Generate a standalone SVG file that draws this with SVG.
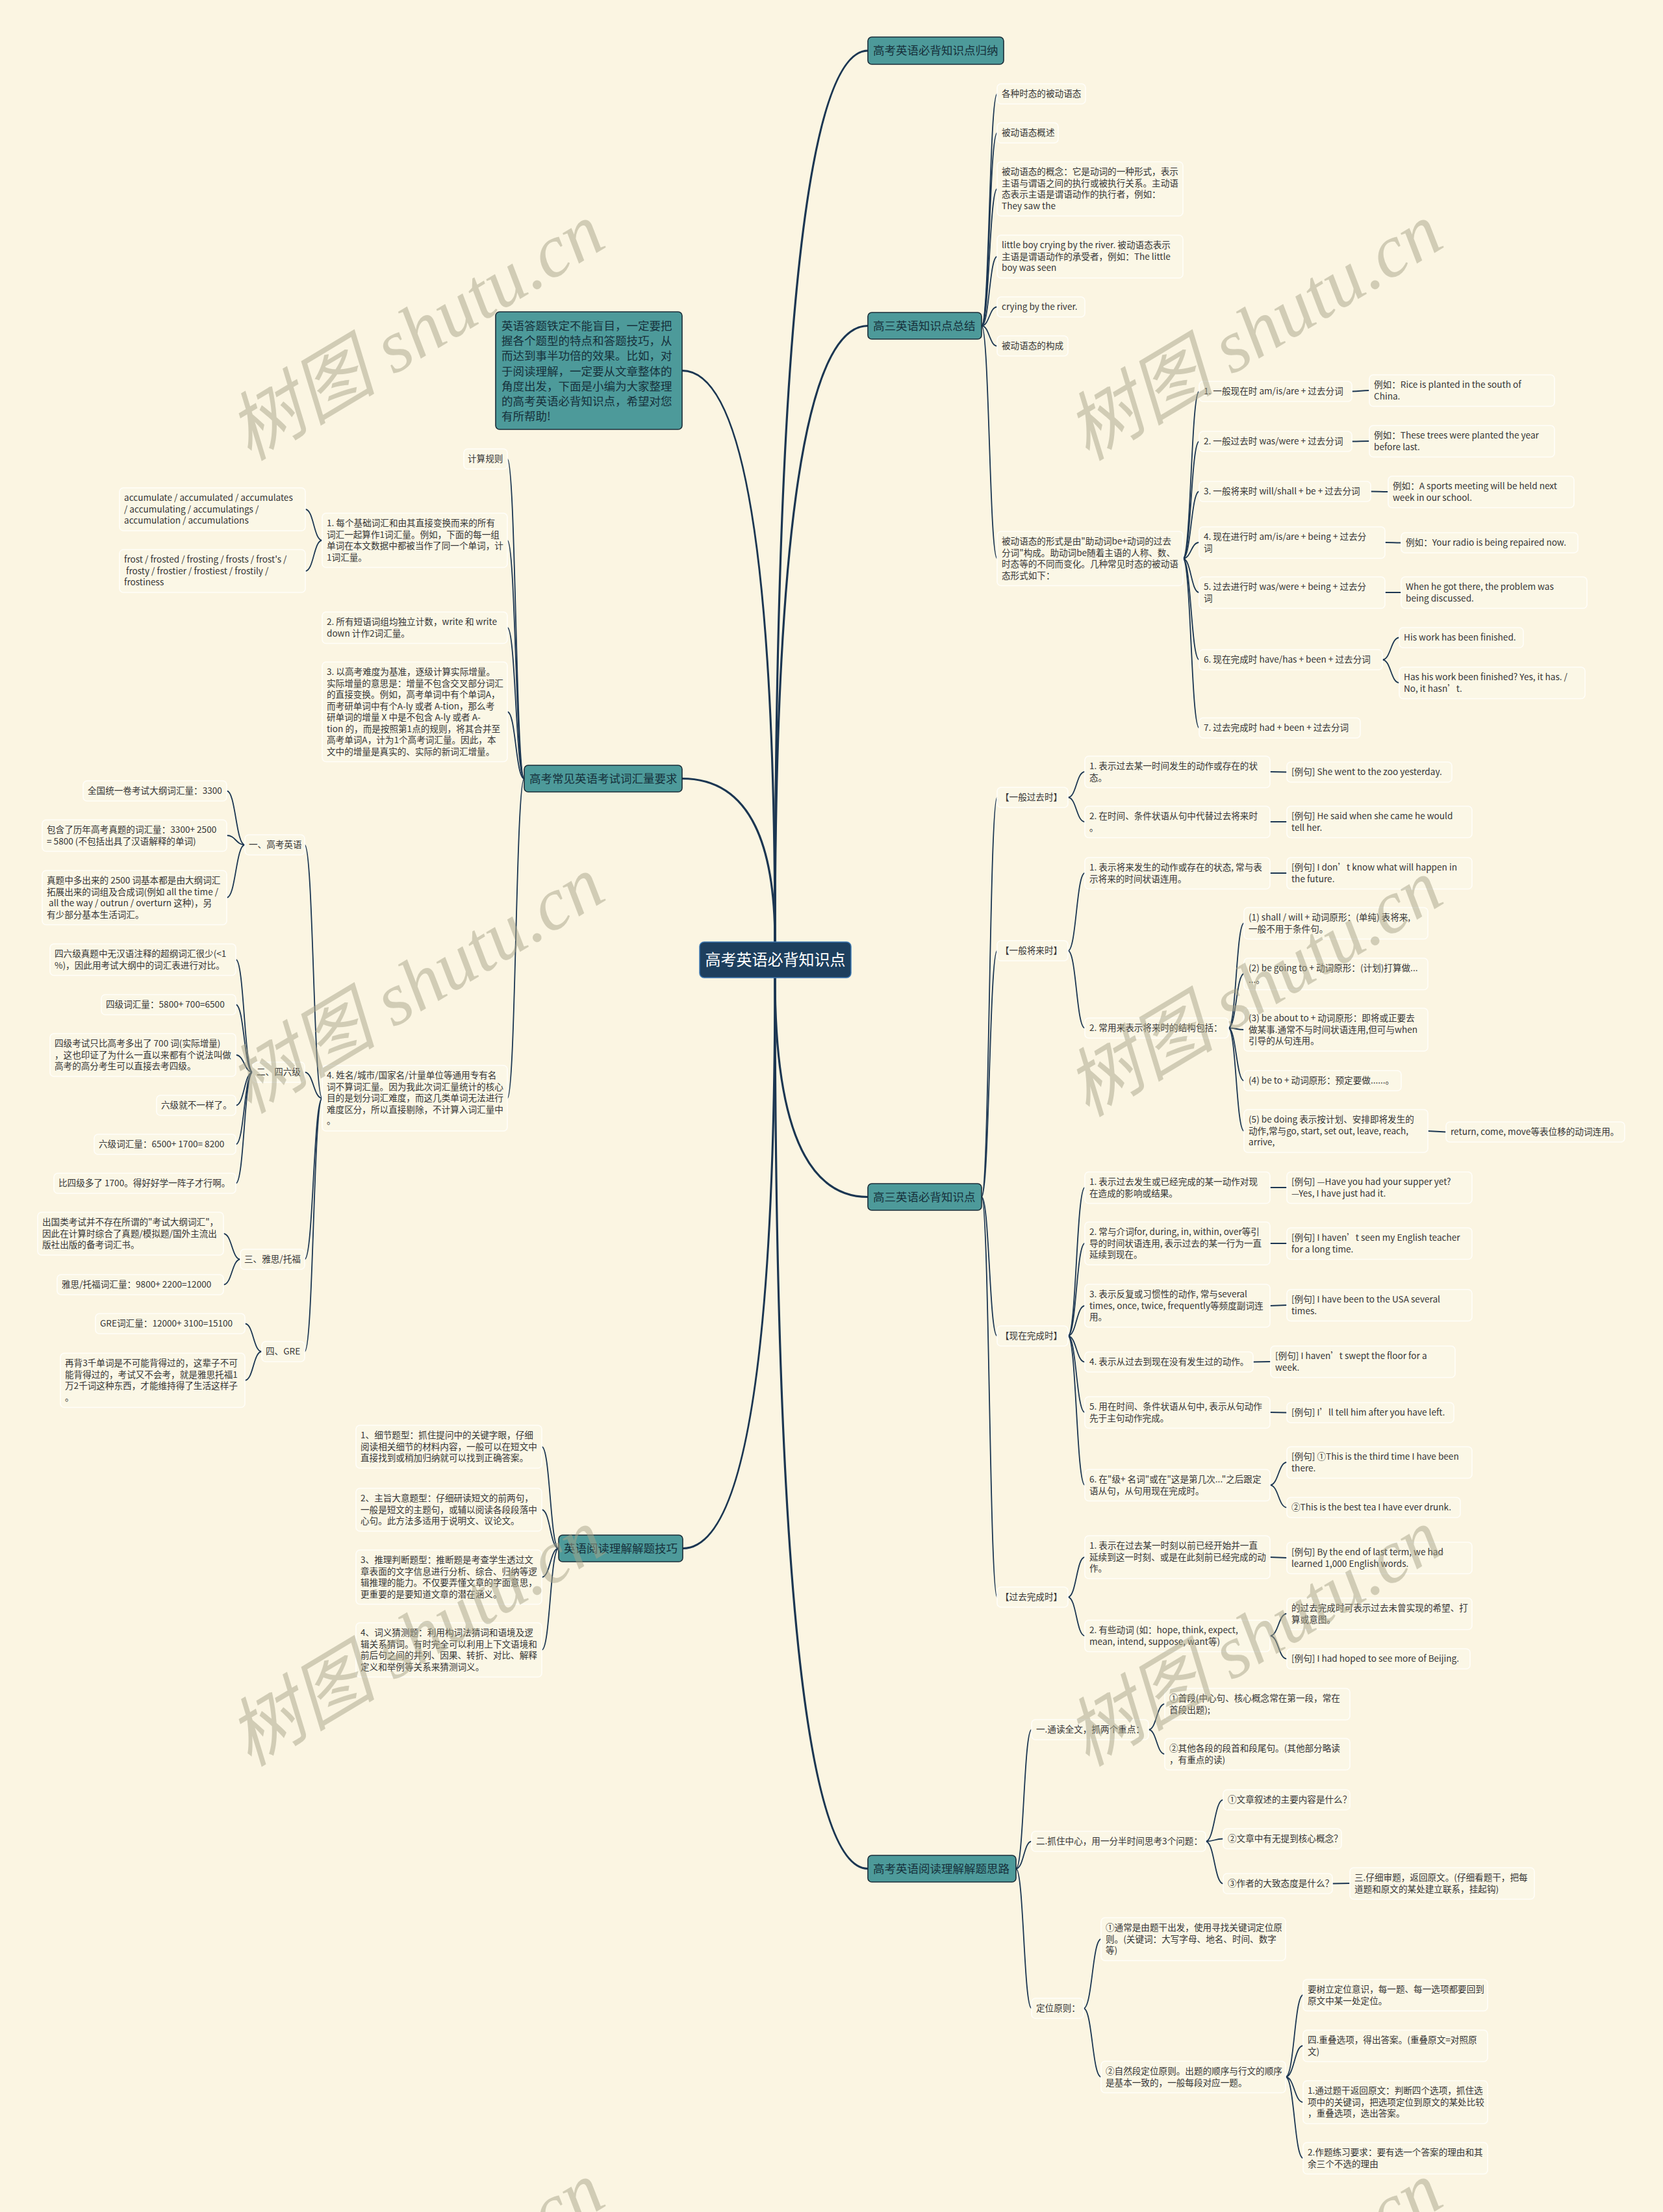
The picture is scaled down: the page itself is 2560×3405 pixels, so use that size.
<svg xmlns="http://www.w3.org/2000/svg" width="2560" height="3405" viewBox="0 0 2560 3405">
<style>
.t{font-family:"Noto Sans CJK SC","Noto Sans",sans-serif;font-size:13.6px;fill:#353535}
.n rect{fill:#fbf7e6;stroke:#fffef9;stroke-width:1.6}
.b rect{fill:#4d9a9a;stroke:#1a2c38;stroke-width:1.6}
.bt{font-family:"Noto Sans CJK SC","Noto Sans",sans-serif;font-size:17.5px;fill:#16303b}
.c path{fill:none;stroke:#1b3652;stroke-width:1.8;stroke-linecap:round}
.c path.m{stroke-width:3.2}
.wm{font-family:"Liberation Serif","Noto Sans CJK SC",serif;font-style:italic;font-size:115px;fill:#a8a58a;opacity:0.5}
</style>
<rect x="0" y="0" width="2560" height="3405" fill="#fbf5e2"/>
<g id="connectors" class="c">
<path class="m" d="M1193 1450Q1193 78 1336 78"/>
<path class="m" d="M1193 1450Q1193 501.5 1336 501.5"/>
<path class="m" d="M1193 1450Q1193 570.5 1050 570.5"/>
<path class="m" d="M1193 1450Q1193 1198.5 1050 1198.5"/>
<path class="m" d="M1193 1505Q1193 1842.5 1336 1842.5"/>
<path class="m" d="M1193 1505Q1193 2876.5 1336 2876.5"/>
<path class="m" d="M1193 1505Q1193 2383.5 1051 2383.5"/>
<path d="M1511 501.5C1523 501.5 1523 144.5 1535 144.5"/>
<path d="M1511 501.5C1523 501.5 1523 204.5 1535 204.5"/>
<path d="M1511 501.5C1523 501.5 1523 290.75 1535 290.75"/>
<path d="M1511 501.5C1523 501.5 1523 395 1535 395"/>
<path d="M1511 501.5C1523 501.5 1523 472.5 1535 472.5"/>
<path d="M1511 501.5C1523 501.5 1523 532.5 1535 532.5"/>
<path d="M1511 501.5C1523 501.5 1523 859.75 1535 859.75"/>
<path d="M1821 859.75C1833.5 859.75 1833.5 602.5 1846 602.5"/>
<path d="M1821 859.75C1833.5 859.75 1833.5 679.5 1846 679.5"/>
<path d="M1821 859.75C1833.5 859.75 1833.5 756.5 1846 756.5"/>
<path d="M1821 859.75C1833.5 859.75 1833.5 835 1846 835"/>
<path d="M1821 859.75C1833.5 859.75 1833.5 912 1846 912"/>
<path d="M1821 859.75C1833.5 859.75 1833.5 1015.5 1846 1015.5"/>
<path d="M1821 859.75C1833.5 859.75 1833.5 1120.5 1846 1120.5"/>
<path d="M2081 602.5C2094.5 602.5 2094.5 601 2108 601"/>
<path d="M2081 679.5C2094.5 679.5 2094.5 679 2108 679"/>
<path d="M2110 756.5C2123.5 756.5 2123.5 757 2137 757"/>
<path d="M2132 835C2144.5 835 2144.5 835.5 2157 835.5"/>
<path d="M2132 912L2157 912"/>
<path d="M2128 1015.5C2141 1015.5 2141 981.5 2154 981.5"/>
<path d="M2128 1015.5C2141 1015.5 2141 1051 2154 1051"/>
<path d="M1511 1842.5C1523 1842.5 1523 1227.5 1535 1227.5"/>
<path d="M1511 1842.5C1523 1842.5 1523 1463.5 1535 1463.5"/>
<path d="M1511 1842.5C1523 1842.5 1523 2056.5 1535 2056.5"/>
<path d="M1511 1842.5C1523 1842.5 1523 2458.5 1535 2458.5"/>
<path d="M1644 1227.5C1657 1227.5 1657 1188 1670 1188"/>
<path d="M1644 1227.5C1657 1227.5 1657 1265 1670 1265"/>
<path d="M1955 1188L1981 1188.5"/>
<path d="M1955 1265L1981 1265"/>
<path d="M1644 1463.5C1657 1463.5 1657 1344 1670 1344"/>
<path d="M1644 1463.5C1657 1463.5 1657 1582.5 1670 1582.5"/>
<path d="M1955 1344L1981 1344"/>
<path d="M1891 1582.5C1903 1582.5 1903 1421 1915 1421"/>
<path d="M1891 1582.5C1903 1582.5 1903 1499 1915 1499"/>
<path d="M1891 1582.5C1903 1582.5 1903 1585 1915 1585"/>
<path d="M1891 1582.5C1903 1582.5 1903 1663.5 1915 1663.5"/>
<path d="M1891 1582.5C1903 1582.5 1903 1741 1915 1741"/>
<path d="M2198 1741L2226 1742.5"/>
<path d="M1644 2056.5C1657 2056.5 1657 1828 1670 1828"/>
<path d="M1644 2056.5C1657 2056.5 1657 1914 1670 1914"/>
<path d="M1644 2056.5C1657 2056.5 1657 2010 1670 2010"/>
<path d="M1644 2056.5C1657 2056.5 1657 2096.5 1670 2096.5"/>
<path d="M1644 2056.5C1657 2056.5 1657 2174 1670 2174"/>
<path d="M1644 2056.5C1657 2056.5 1657 2286 1670 2286"/>
<path d="M1955 1828L1981 1828"/>
<path d="M1955 1914L1981 1914"/>
<path d="M1955 2010L1981 2009"/>
<path d="M1929 2096.5L1956 2096"/>
<path d="M1955 2174L1981 2174.5"/>
<path d="M1955 2286C1968 2286 1968 2251 1981 2251"/>
<path d="M1955 2286C1968 2286 1968 2320.5 1981 2320.5"/>
<path d="M1644 2458.5C1657 2458.5 1657 2397 1670 2397"/>
<path d="M1644 2458.5C1657 2458.5 1657 2518 1670 2518"/>
<path d="M1955 2397L1981 2398"/>
<path d="M1955 2518C1968 2518 1968 2484 1981 2484"/>
<path d="M1955 2518C1968 2518 1968 2553.5 1981 2553.5"/>
<path d="M1564 2876.5C1576 2876.5 1576 2662.5 1588 2662.5"/>
<path d="M1564 2876.5C1576 2876.5 1576 2834.5 1588 2834.5"/>
<path d="M1564 2876.5C1576 2876.5 1576 3091.5 1588 3091.5"/>
<path d="M1768 2662.5C1780.5 2662.5 1780.5 2623 1793 2623"/>
<path d="M1768 2662.5C1780.5 2662.5 1780.5 2700 1793 2700"/>
<path d="M1856 2834.5C1869.5 2834.5 1869.5 2770.5 1883 2770.5"/>
<path d="M1856 2834.5C1869.5 2834.5 1869.5 2830.5 1883 2830.5"/>
<path d="M1856 2834.5C1869.5 2834.5 1869.5 2899.5 1883 2899.5"/>
<path d="M2051 2899.5L2078 2899"/>
<path d="M1668 3091.5C1681.5 3091.5 1681.5 2985 1695 2985"/>
<path d="M1668 3091.5C1681.5 3091.5 1681.5 3197 1695 3197"/>
<path d="M1979 3197C1992.5 3197 1992.5 3071 2006 3071"/>
<path d="M1979 3197C1992.5 3197 1992.5 3149 2006 3149"/>
<path d="M1979 3197C1992.5 3197 1992.5 3236 2006 3236"/>
<path d="M1979 3197C1992.5 3197 1992.5 3322 2006 3322"/>
<path d="M807 1198.5C794 1198.5 794 706.5 781 706.5"/>
<path d="M807 1198.5C794 1198.5 794 831.75 781 831.75"/>
<path d="M807 1198.5C794 1198.5 794 966 781 966"/>
<path d="M807 1198.5C794 1198.5 794 1095.75 781 1095.75"/>
<path d="M807 1198.5C794 1198.5 794 1690.5 781 1690.5"/>
<path d="M496 831.75C483 831.75 483 784 470 784"/>
<path d="M496 831.75C483 831.75 483 879 470 879"/>
<path d="M496 1690.5C482.5 1690.5 482.5 1300.5 469 1300.5"/>
<path d="M496 1690.5C482.5 1690.5 482.5 1650.5 469 1650.5"/>
<path d="M496 1690.5C482.5 1690.5 482.5 1938.5 469 1938.5"/>
<path d="M496 1690.5C482.5 1690.5 482.5 2080.5 469 2080.5"/>
<path d="M377 1300.5C363 1300.5 363 1217.5 349 1217.5"/>
<path d="M377 1300.5C363 1300.5 363 1286 349 1286"/>
<path d="M377 1300.5C363 1300.5 363 1381.75 349 1381.75"/>
<path d="M389 1650.5C376 1650.5 376 1477 363 1477"/>
<path d="M389 1650.5C376 1650.5 376 1546.5 363 1546.5"/>
<path d="M389 1650.5C376 1650.5 376 1624 363 1624"/>
<path d="M389 1650.5C376 1650.5 376 1701.5 363 1701.5"/>
<path d="M389 1650.5C376 1650.5 376 1761.5 363 1761.5"/>
<path d="M389 1650.5C376 1650.5 376 1821.5 363 1821.5"/>
<path d="M370 1938.5C357 1938.5 357 1899 344 1899"/>
<path d="M370 1938.5C357 1938.5 357 1977.5 344 1977.5"/>
<path d="M403 2080.5C390 2080.5 390 2037.5 377 2037.5"/>
<path d="M403 2080.5C390 2080.5 390 2124.75 377 2124.75"/>
<path d="M860 2383.5C847 2383.5 847 2227 834 2227"/>
<path d="M860 2383.5C847 2383.5 847 2324 834 2324"/>
<path d="M860 2383.5C847 2383.5 847 2427.75 834 2427.75"/>
<path d="M860 2383.5C847 2383.5 847 2539.75 834 2539.75"/>
</g>
<g id="center"><rect x="1077" y="1450" width="233" height="55" rx="7" fill="#1d3f5e" stroke="#3b77b2" stroke-width="1.5"/><text x="1193.5" y="1486" text-anchor="middle" font-family="Noto Sans CJK SC, sans-serif" font-size="24" fill="#ffffff">高考英语必背知识点</text></g>
<g id="b1" class="b"><rect x="1336" y="57" width="209" height="42" rx="6"/><text class="bt" x="1344" y="84">高考英语必背知识点归纳</text></g>
<g id="b2" class="b"><rect x="1336" y="481" width="175" height="41" rx="6"/><text class="bt" x="1344" y="507.6">高三英语知识点总结</text></g>
<g id="b3" class="b"><rect x="1336" y="1822" width="175" height="41" rx="6"/><text class="bt" x="1344" y="1848.6">高三英语必背知识点</text></g>
<g id="b4" class="b"><rect x="1336" y="2856" width="228" height="41" rx="6"/><text class="bt" x="1344" y="2882.6">高考英语阅读理解解题思路</text></g>
<g id="intro" class="b"><rect x="763" y="480" width="287" height="181" rx="6"/><text class="bt" x="772" y="508">英语答题铁定不能盲目，一定要把<tspan x="772" dy="23.2">握各个题型的特点和答题技巧，从</tspan><tspan x="772" dy="23.2">而达到事半功倍的效果。比如，对</tspan><tspan x="772" dy="23.2">于阅读理解，一定要从文章整体的</tspan><tspan x="772" dy="23.2">角度出发，下面是小编为大家整理</tspan><tspan x="772" dy="23.2">的高考英语必背知识点，希望对您</tspan><tspan x="772" dy="23.2">有所帮助!</tspan></text></g>
<g id="b5" class="b"><rect x="807" y="1178" width="243" height="41" rx="6"/><text class="bt" x="815" y="1204.6">高考常见英语考试词汇量要求</text></g>
<g id="b6" class="b"><rect x="860" y="2363" width="191" height="41" rx="6"/><text class="bt" x="868" y="2389.6">英语阅读理解解题技巧</text></g>
<g id="na" class="n"><rect x="1535" y="129" width="136" height="31" rx="6"/><text class="t" x="1542" y="149.2">各种时态的被动语态</text></g>
<g id="nb" class="n"><rect x="1535" y="189" width="94" height="31" rx="6"/><text class="t" x="1542" y="209.2">被动语态概述</text></g>
<g id="nc" class="n"><rect x="1535" y="249" width="286" height="83.5" rx="6"/><text class="t" x="1542" y="269.2">被动语态的概念：它是动词的一种形式，表示<tspan x="1542" dy="17.5">主语与谓语之间的执行或被执行关系。主动语</tspan><tspan x="1542" dy="17.5">态表示主语是谓语动作的执行者，例如：</tspan><tspan x="1542" dy="17.5">They saw the</tspan></text></g>
<g id="nd" class="n"><rect x="1535" y="362" width="286" height="66" rx="6"/><text class="t" x="1542" y="382.2">little boy crying by the river. 被动语态表示<tspan x="1542" dy="17.5">主语是谓语动作的承受者，例如：The little</tspan><tspan x="1542" dy="17.5">boy was seen</tspan></text></g>
<g id="ne" class="n"><rect x="1535" y="457" width="135" height="31" rx="6"/><text class="t" x="1542" y="477.2">crying by the river.</text></g>
<g id="nf" class="n"><rect x="1535" y="517" width="109" height="31" rx="6"/><text class="t" x="1542" y="537.2">被动语态的构成</text></g>
<g id="ng" class="n"><rect x="1535" y="818" width="286" height="83.5" rx="6"/><text class="t" x="1542" y="838.2">被动语态的形式是由"助动词be+动词的过去<tspan x="1542" dy="17.5">分词"构成。助动词be随着主语的人称、数、</tspan><tspan x="1542" dy="17.5">时态等的不同而变化。几种常见时态的被动语</tspan><tspan x="1542" dy="17.5">态形式如下：</tspan></text></g>
<g id="g1" class="n"><rect x="1846" y="587" width="235" height="31" rx="6"/><text class="t" x="1853" y="607.2">1. 一般现在时 am/is/are + 过去分词</text></g>
<g id="g1e" class="n"><rect x="2108" y="577" width="285" height="48.5" rx="6"/><text class="t" x="2115" y="597.2">例如：Rice is planted in the south of<tspan x="2115" dy="17.5">China.</tspan></text></g>
<g id="g2" class="n"><rect x="1846" y="664" width="235" height="31" rx="6"/><text class="t" x="1853" y="684.2">2. 一般过去时 was/were + 过去分词</text></g>
<g id="g2e" class="n"><rect x="2108" y="655" width="285" height="48.5" rx="6"/><text class="t" x="2115" y="675.2">例如：These trees were planted the year<tspan x="2115" dy="17.5">before last.</tspan></text></g>
<g id="g3" class="n"><rect x="1846" y="741" width="264" height="31" rx="6"/><text class="t" x="1853" y="761.2">3. 一般将来时 will/shall + be + 过去分词</text></g>
<g id="g3e" class="n"><rect x="2137" y="733" width="286" height="48.5" rx="6"/><text class="t" x="2144" y="753.2">例如：A sports meeting will be held next<tspan x="2144" dy="17.5">week in our school.</tspan></text></g>
<g id="g4" class="n"><rect x="1846" y="811" width="286" height="48.5" rx="6"/><text class="t" x="1853" y="831.2">4. 现在进行时 am/is/are + being + 过去分<tspan x="1853" dy="17.5">词</tspan></text></g>
<g id="g4e" class="n"><rect x="2157" y="820" width="272" height="31" rx="6"/><text class="t" x="2164" y="840.2">例如：Your radio is being repaired now.</text></g>
<g id="g5" class="n"><rect x="1846" y="888" width="286" height="48.5" rx="6"/><text class="t" x="1853" y="908.2">5. 过去进行时 was/were + being + 过去分<tspan x="1853" dy="17.5">词</tspan></text></g>
<g id="g5e" class="n"><rect x="2157" y="888" width="286" height="48.5" rx="6"/><text class="t" x="2164" y="908.2">When he got there, the problem was<tspan x="2164" dy="17.5">being discussed.</tspan></text></g>
<g id="g6" class="n"><rect x="1846" y="1000" width="282" height="31" rx="6"/><text class="t" x="1853" y="1020.2">6. 现在完成时 have/has + been + 过去分词</text></g>
<g id="g6e1" class="n"><rect x="2154" y="966" width="191" height="31" rx="6"/><text class="t" x="2161" y="986.2">His work has been finished.</text></g>
<g id="g6e2" class="n"><rect x="2154" y="1027" width="286" height="48.5" rx="6"/><text class="t" x="2161" y="1047.2">Has his work been finished? Yes, it has. /<tspan x="2161" dy="17.5">No, it hasn’t.</tspan></text></g>
<g id="g7" class="n"><rect x="1846" y="1105" width="248" height="31" rx="6"/><text class="t" x="1853" y="1125.2">7. 过去完成时 had + been + 过去分词</text></g>
<g id="h1" class="n"><rect x="1535" y="1212" width="109" height="31" rx="6"/><text class="t" x="1540" y="1232.2">【一般过去时】</text></g>
<g id="h1a" class="n"><rect x="1670" y="1164" width="285" height="48.5" rx="6"/><text class="t" x="1677" y="1184.2">1. 表示过去某一时间发生的动作或存在的状<tspan x="1677" dy="17.5">态。</tspan></text></g>
<g id="h1ae" class="n"><rect x="1981" y="1173" width="254" height="31" rx="6"/><text class="t" x="1988" y="1193.2">[例句] She went to the zoo yesterday.</text></g>
<g id="h1b" class="n"><rect x="1670" y="1241" width="285" height="48.5" rx="6"/><text class="t" x="1677" y="1261.2">2. 在时间、条件状语从句中代替过去将来时<tspan x="1677" dy="17.5">。</tspan></text></g>
<g id="h1be" class="n"><rect x="1981" y="1241" width="285" height="48.5" rx="6"/><text class="t" x="1988" y="1261.2">[例句] He said when she came he would<tspan x="1988" dy="17.5">tell her.</tspan></text></g>
<g id="h2" class="n"><rect x="1535" y="1448" width="109" height="31" rx="6"/><text class="t" x="1540" y="1468.2">【一般将来时】</text></g>
<g id="h2a" class="n"><rect x="1670" y="1320" width="285" height="48.5" rx="6"/><text class="t" x="1677" y="1340.2">1. 表示将来发生的动作或存在的状态, 常与表<tspan x="1677" dy="17.5">示将来的时间状语连用。</tspan></text></g>
<g id="h2ae" class="n"><rect x="1981" y="1320" width="285" height="48.5" rx="6"/><text class="t" x="1988" y="1340.2">[例句] I don’t know what will happen in<tspan x="1988" dy="17.5">the future.</tspan></text></g>
<g id="h2b" class="n"><rect x="1670" y="1567" width="221" height="31" rx="6"/><text class="t" x="1677" y="1587.2">2. 常用来表示将来时的结构包括：</text></g>
<g id="s1" class="n"><rect x="1915" y="1397" width="283" height="48.5" rx="6"/><text class="t" x="1922" y="1417.2">(1) shall / will + 动词原形：(单纯) 表将来,<tspan x="1922" dy="17.5">一般不用于条件句。</tspan></text></g>
<g id="s2" class="n"><rect x="1915" y="1475" width="283" height="48.5" rx="6"/><text class="t" x="1922" y="1495.2">(2) be going to + 动词原形：(计划)打算做...<tspan x="1922" dy="17.5">...。</tspan></text></g>
<g id="s3" class="n"><rect x="1915" y="1552" width="283" height="66" rx="6"/><text class="t" x="1922" y="1572.2">(3) be about to + 动词原形：即将或正要去<tspan x="1922" dy="17.5">做某事.通常不与时间状语连用,但可与when</tspan><tspan x="1922" dy="17.5">引导的从句连用。</tspan></text></g>
<g id="s4" class="n"><rect x="1915" y="1648" width="242" height="31" rx="6"/><text class="t" x="1922" y="1668.2">(4) be to + 动词原形：预定要做......。</text></g>
<g id="s5" class="n"><rect x="1915" y="1708" width="283" height="66" rx="6"/><text class="t" x="1922" y="1728.2">(5) be doing 表示按计划、安排即将发生的<tspan x="1922" dy="17.5">动作,常与go, start, set out, leave, reach,</tspan><tspan x="1922" dy="17.5">arrive,</tspan></text></g>
<g id="s5e" class="n"><rect x="2226" y="1727" width="275" height="31" rx="6"/><text class="t" x="2233" y="1747.2">return, come, move等表位移的动词连用。</text></g>
<g id="h3" class="n"><rect x="1535" y="2041" width="109" height="31" rx="6"/><text class="t" x="1540" y="2061.2">【现在完成时】</text></g>
<g id="h3a" class="n"><rect x="1670" y="1804" width="285" height="48.5" rx="6"/><text class="t" x="1677" y="1824.2">1. 表示过去发生或已经完成的某一动作对现<tspan x="1677" dy="17.5">在造成的影响或结果。</tspan></text></g>
<g id="h3ae" class="n"><rect x="1981" y="1804" width="285" height="48.5" rx="6"/><text class="t" x="1988" y="1824.2">[例句] —Have you had your supper yet?<tspan x="1988" dy="17.5">—Yes, I have just had it.</tspan></text></g>
<g id="h3b" class="n"><rect x="1670" y="1881" width="285" height="66" rx="6"/><text class="t" x="1677" y="1901.2">2. 常与介词for, during, in, within, over等引<tspan x="1677" dy="17.5">导的时间状语连用, 表示过去的某一行为一直</tspan><tspan x="1677" dy="17.5">延续到现在。</tspan></text></g>
<g id="h3be" class="n"><rect x="1981" y="1890" width="285" height="48.5" rx="6"/><text class="t" x="1988" y="1910.2">[例句] I haven’t seen my English teacher<tspan x="1988" dy="17.5">for a long time.</tspan></text></g>
<g id="h3c" class="n"><rect x="1670" y="1977" width="285" height="66" rx="6"/><text class="t" x="1677" y="1997.2">3. 表示反复或习惯性的动作, 常与several<tspan x="1677" dy="17.5">times, once, twice, frequently等频度副词连</tspan><tspan x="1677" dy="17.5">用。</tspan></text></g>
<g id="h3ce" class="n"><rect x="1981" y="1985" width="285" height="48.5" rx="6"/><text class="t" x="1988" y="2005.2">[例句] I have been to the USA several<tspan x="1988" dy="17.5">times.</tspan></text></g>
<g id="h3d" class="n"><rect x="1670" y="2081" width="259" height="31" rx="6"/><text class="t" x="1677" y="2101.2">4. 表示从过去到现在没有发生过的动作。</text></g>
<g id="h3de" class="n"><rect x="1956" y="2072" width="284" height="48.5" rx="6"/><text class="t" x="1963" y="2092.2">[例句] I haven’t swept the floor for a<tspan x="1963" dy="17.5">week.</tspan></text></g>
<g id="h3e" class="n"><rect x="1670" y="2150" width="285" height="48.5" rx="6"/><text class="t" x="1677" y="2170.2">5. 用在时间、条件状语从句中, 表示从句动作<tspan x="1677" dy="17.5">先于主句动作完成。</tspan></text></g>
<g id="h3ee" class="n"><rect x="1981" y="2159" width="257" height="31" rx="6"/><text class="t" x="1988" y="2179.2">[例句] I’ll tell him after you have left.</text></g>
<g id="h3f" class="n"><rect x="1670" y="2262" width="285" height="48.5" rx="6"/><text class="t" x="1677" y="2282.2">6. 在"级+ 名词"或在"这是第几次..."之后跟定<tspan x="1677" dy="17.5">语从句，从句用现在完成时。</tspan></text></g>
<g id="h3fe1" class="n"><rect x="1981" y="2227" width="285" height="48.5" rx="6"/><text class="t" x="1988" y="2247.2">[例句] ①This is the third time I have been<tspan x="1988" dy="17.5">there.</tspan></text></g>
<g id="h3fe2" class="n"><rect x="1981" y="2305" width="267" height="31" rx="6"/><text class="t" x="1988" y="2325.2">②This is the best tea I have ever drunk.</text></g>
<g id="h4" class="n"><rect x="1535" y="2443" width="109" height="31" rx="6"/><text class="t" x="1540" y="2463.2">【过去完成时】</text></g>
<g id="h4a" class="n"><rect x="1670" y="2364" width="285" height="66" rx="6"/><text class="t" x="1677" y="2384.2">1. 表示在过去某一时刻以前已经开始并一直<tspan x="1677" dy="17.5">延续到这一时刻、或是在此刻前已经完成的动</tspan><tspan x="1677" dy="17.5">作。</tspan></text></g>
<g id="h4ae" class="n"><rect x="1981" y="2374" width="285" height="48.5" rx="6"/><text class="t" x="1988" y="2394.2">[例句] By the end of last term, we had<tspan x="1988" dy="17.5">learned 1,000 English words.</tspan></text></g>
<g id="h4b" class="n"><rect x="1670" y="2494" width="285" height="48.5" rx="6"/><text class="t" x="1677" y="2514.2">2. 有些动词 (如：hope, think, expect,<tspan x="1677" dy="17.5">mean, intend, suppose, want等)</tspan></text></g>
<g id="h4be1" class="n"><rect x="1981" y="2460" width="285" height="48.5" rx="6"/><text class="t" x="1988" y="2480.2">的过去完成时可表示过去未曾实现的希望、打<tspan x="1988" dy="17.5">算或意图。</tspan></text></g>
<g id="h4be2" class="n"><rect x="1981" y="2538" width="282" height="31" rx="6"/><text class="t" x="1988" y="2558.2">[例句] I had hoped to see more of Beijing.</text></g>
<g id="i1" class="n"><rect x="1588" y="2647" width="180" height="31" rx="6"/><text class="t" x="1595" y="2667.2">一.通读全文，抓两个重点：</text></g>
<g id="c1" class="n"><rect x="1793" y="2599" width="285" height="48.5" rx="6"/><text class="t" x="1800" y="2619.2">①首段(中心句、核心概念常在第一段，常在<tspan x="1800" dy="17.5">首段出题);</tspan></text></g>
<g id="c2" class="n"><rect x="1793" y="2676" width="285" height="48.5" rx="6"/><text class="t" x="1800" y="2696.2">②其他各段的段首和段尾句。(其他部分略读<tspan x="1800" dy="17.5">，有重点的读)</tspan></text></g>
<g id="i2" class="n"><rect x="1588" y="2819" width="268" height="31" rx="6"/><text class="t" x="1595" y="2839.2">二.抓住中心，用一分半时间思考3个问题：</text></g>
<g id="d1" class="n"><rect x="1883" y="2755" width="195" height="31" rx="6"/><text class="t" x="1890" y="2775.2">①文章叙述的主要内容是什么？</text></g>
<g id="d2" class="n"><rect x="1883" y="2815" width="182" height="31" rx="6"/><text class="t" x="1890" y="2835.2">②文章中有无提到核心概念？</text></g>
<g id="d3" class="n"><rect x="1883" y="2884" width="168" height="31" rx="6"/><text class="t" x="1890" y="2904.2">③作者的大致态度是什么？</text></g>
<g id="d3e" class="n"><rect x="2078" y="2875" width="284" height="48.5" rx="6"/><text class="t" x="2085" y="2895.2">三.仔细审题，返回原文。(仔细看题干，把每<tspan x="2085" dy="17.5">道题和原文的某处建立联系，挂起钩)</tspan></text></g>
<g id="i3" class="n"><rect x="1588" y="3076" width="80" height="31" rx="6"/><text class="t" x="1595" y="3096.2">定位原则：</text></g>
<g id="e1" class="n"><rect x="1695" y="2952" width="284" height="66" rx="6"/><text class="t" x="1702" y="2972.2">①通常是由题干出发，使用寻找关键词定位原<tspan x="1702" dy="17.5">则。(关键词：大写字母、地名、时间、数字</tspan><tspan x="1702" dy="17.5">等)</tspan></text></g>
<g id="e2" class="n"><rect x="1695" y="3173" width="284" height="48.5" rx="6"/><text class="t" x="1702" y="3193.2">②自然段定位原则。出题的顺序与行文的顺序<tspan x="1702" dy="17.5">是基本一致的，一般每段对应一题。</tspan></text></g>
<g id="f1" class="n"><rect x="2006" y="3047" width="284" height="48.5" rx="6"/><text class="t" x="2013" y="3067.2">要树立定位意识，每一题、每一选项都要回到<tspan x="2013" dy="17.5">原文中某一处定位。</tspan></text></g>
<g id="f2" class="n"><rect x="2006" y="3125" width="284" height="48.5" rx="6"/><text class="t" x="2013" y="3145.2">四.重叠选项，得出答案。(重叠原文=对照原<tspan x="2013" dy="17.5">文)</tspan></text></g>
<g id="f3" class="n"><rect x="2006" y="3203" width="284" height="66" rx="6"/><text class="t" x="2013" y="3223.2">1.通过题干返回原文：判断四个选项，抓住选<tspan x="2013" dy="17.5">项中的关键词，把选项定位到原文的某处比较</tspan><tspan x="2013" dy="17.5">，重叠选项，选出答案。</tspan></text></g>
<g id="f4" class="n"><rect x="2006" y="3298" width="284" height="48.5" rx="6"/><text class="t" x="2013" y="3318.2">2.作题练习要求：要有选一个答案的理由和其<tspan x="2013" dy="17.5">余三个不选的理由</tspan></text></g>
<g id="j0" class="n"><rect x="714" y="691" width="67" height="31" rx="6"/><text class="t" x="720" y="711.2">计算规则</text></g>
<g id="j1" class="n"><rect x="496" y="790" width="285" height="83.5" rx="6"/><text class="t" x="503" y="810.2">1. 每个基础词汇和由其直接变换而来的所有<tspan x="503" dy="17.5">词汇一起算作1词汇量。例如，下面的每一组</tspan><tspan x="503" dy="17.5">单词在本文数据中都被当作了同一个单词，计</tspan><tspan x="503" dy="17.5">1词汇量。</tspan></text></g>
<g id="acc" class="n"><rect x="184" y="751" width="286" height="66" rx="6"/><text class="t" x="191" y="771.2">accumulate / accumulated / accumulates<tspan x="191" dy="17.5">/ accumulating / accumulatings /</tspan><tspan x="191" dy="17.5">accumulation / accumulations</tspan></text></g>
<g id="frost" class="n"><rect x="184" y="846" width="286" height="66" rx="6"/><text class="t" x="191" y="866.2">frost / frosted / frosting / frosts / frost's /<tspan x="194" dy="17.5">frosty / frostier / frostiest / frostily /</tspan><tspan x="191" dy="17.5">frostiness</tspan></text></g>
<g id="j2" class="n"><rect x="496" y="942" width="285" height="48.5" rx="6"/><text class="t" x="503" y="962.2">2. 所有短语词组均独立计数，write 和 write<tspan x="503" dy="17.5">down 计作2词汇量。</tspan></text></g>
<g id="j3" class="n"><rect x="496" y="1019" width="285" height="153.5" rx="6"/><text class="t" x="503" y="1039.2">3. 以高考难度为基准，逐级计算实际增量。<tspan x="503" dy="17.5">实际增量的意思是：增量不包含交叉部分词汇</tspan><tspan x="503" dy="17.5">的直接变换。例如，高考单词中有个单词A，</tspan><tspan x="503" dy="17.5">而考研单词中有个A-ly 或者 A-tion，那么考</tspan><tspan x="503" dy="17.5">研单词的增量 X 中是不包含 A-ly 或者 A-</tspan><tspan x="503" dy="17.5">tion 的，而是按照第1点的规则，将其合并至</tspan><tspan x="503" dy="17.5">高考单词A，计为1个高考词汇量。因此，本</tspan><tspan x="503" dy="17.5">文中的增量是真实的、实际的新词汇增量。</tspan></text></g>
<g id="j4" class="n"><rect x="496" y="1640" width="285" height="101" rx="6"/><text class="t" x="503" y="1660.2">4. 姓名/城市/国家名/计量单位等通用专有名<tspan x="503" dy="17.5">词不算词汇量。因为我此次词汇量统计的核心</tspan><tspan x="503" dy="17.5">目的是划分词汇难度，而这几类单词无法进行</tspan><tspan x="503" dy="17.5">难度区分，所以直接剔除，不计算入词汇量中</tspan><tspan x="503" dy="17.5">。</tspan></text></g>
<g id="j5" class="n"><rect x="377" y="1285" width="92" height="31" rx="6"/><text class="t" x="383" y="1305.2">一、高考英语</text></g>
<g id="j5a" class="n"><rect x="128" y="1202" width="221" height="31" rx="6"/><text class="t" x="135" y="1222.2">全国统一卷考试大纲词汇量：3300</text></g>
<g id="j5b" class="n"><rect x="65" y="1262" width="284" height="48.5" rx="6"/><text class="t" x="72" y="1282.2">包含了历年高考真题的词汇量：3300+ 2500<tspan x="72" dy="17.5">= 5800 (不包括出具了汉语解释的单词)</tspan></text></g>
<g id="j5c" class="n"><rect x="65" y="1340" width="284" height="83.5" rx="6"/><text class="t" x="72" y="1360.2">真题中多出来的 2500 词基本都是由大纲词汇<tspan x="72" dy="17.5">拓展出来的词组及合成词(例如 all the time /</tspan><tspan x="75" dy="17.5">all the way / outrun / overturn 这种)，另</tspan><tspan x="72" dy="17.5">有少部分基本生活词汇。</tspan></text></g>
<g id="j6" class="n"><rect x="389" y="1635" width="80" height="31" rx="6"/><text class="t" x="395" y="1655.2">二、四六级</text></g>
<g id="j6a" class="n"><rect x="77" y="1453" width="286" height="48.5" rx="6"/><text class="t" x="84" y="1473.2">四六级真题中无汉语注释的超纲词汇很少(&lt;1<tspan x="84" dy="17.5">%)，因此用考试大纲中的词汇表进行对比。</tspan></text></g>
<g id="j6b" class="n"><rect x="156" y="1531" width="207" height="31" rx="6"/><text class="t" x="163" y="1551.2">四级词汇量：5800+ 700=6500</text></g>
<g id="j6c" class="n"><rect x="77" y="1591" width="286" height="66" rx="6"/><text class="t" x="84" y="1611.2">四级考试只比高考多出了 700 词(实际增量)<tspan x="84" dy="17.5">，这也印证了为什么一直以来都有个说法叫做</tspan><tspan x="84" dy="17.5">高考的高分考生可以直接去考四级。</tspan></text></g>
<g id="j6d" class="n"><rect x="241" y="1686" width="122" height="31" rx="6"/><text class="t" x="248" y="1706.2">六级就不一样了。</text></g>
<g id="j6e" class="n"><rect x="145" y="1746" width="218" height="31" rx="6"/><text class="t" x="152" y="1766.2">六级词汇量：6500+ 1700= 8200</text></g>
<g id="j6f" class="n"><rect x="83" y="1806" width="280" height="31" rx="6"/><text class="t" x="90" y="1826.2">比四级多了 1700。得好好学一阵子才行啊。</text></g>
<g id="j7" class="n"><rect x="370" y="1923" width="99" height="31" rx="6"/><text class="t" x="376" y="1943.2">三、雅思/托福</text></g>
<g id="j7a" class="n"><rect x="58" y="1866" width="286" height="66" rx="6"/><text class="t" x="65" y="1886.2">出国类考试并不存在所谓的"考试大纲词汇"，<tspan x="65" dy="17.5">因此在计算时综合了真题/模拟题/国外主流出</tspan><tspan x="65" dy="17.5">版社出版的备考词汇书。</tspan></text></g>
<g id="j7b" class="n"><rect x="88" y="1962" width="256" height="31" rx="6"/><text class="t" x="95" y="1982.2">雅思/托福词汇量：9800+ 2200=12000</text></g>
<g id="j8" class="n"><rect x="403" y="2065" width="66" height="31" rx="6"/><text class="t" x="409" y="2085.2">四、GRE</text></g>
<g id="j8a" class="n"><rect x="147" y="2022" width="230" height="31" rx="6"/><text class="t" x="154" y="2042.2">GRE词汇量：12000+ 3100=15100</text></g>
<g id="j8b" class="n"><rect x="93" y="2083" width="284" height="83.5" rx="6"/><text class="t" x="100" y="2103.2">再背3千单词是不可能背得过的，这辈子不可<tspan x="100" dy="17.5">能背得过的，考试又不会考，就是雅思托福1</tspan><tspan x="100" dy="17.5">万2千词这种东西，才能维持得了生活这样子</tspan><tspan x="100" dy="17.5">。</tspan></text></g>
<g id="k1" class="n"><rect x="548" y="2194" width="286" height="66" rx="6"/><text class="t" x="555" y="2214.2">1、细节题型：抓住提问中的关键字眼，仔细<tspan x="555" dy="17.5">阅读相关细节的材料内容，一般可以在短文中</tspan><tspan x="555" dy="17.5">直接找到或稍加归纳就可以找到正确答案。</tspan></text></g>
<g id="k2" class="n"><rect x="548" y="2291" width="286" height="66" rx="6"/><text class="t" x="555" y="2311.2">2、主旨大意题型：仔细研读短文的前两句，<tspan x="555" dy="17.5">一般是短文的主题句，或辅以阅读各段段落中</tspan><tspan x="555" dy="17.5">心句。此方法多适用于说明文、议论文。</tspan></text></g>
<g id="k3" class="n"><rect x="548" y="2386" width="286" height="83.5" rx="6"/><text class="t" x="555" y="2406.2">3、推理判断题型：推断题是考查学生透过文<tspan x="555" dy="17.5">章表面的文字信息进行分析、综合、归纳等逻</tspan><tspan x="555" dy="17.5">辑推理的能力。不仅要弄懂文章的字面意思，</tspan><tspan x="555" dy="17.5">更重要的是要知道文章的潜在涵义。</tspan></text></g>
<g id="k4" class="n"><rect x="548" y="2498" width="286" height="83.5" rx="6"/><text class="t" x="555" y="2518.2">4、词义猜测题：利用构词法猜词和语境及逻<tspan x="555" dy="17.5">辑关系猜词。有时完全可以利用上下文语境和</tspan><tspan x="555" dy="17.5">前后句之间的并列、因果、转折、对比、解释</tspan><tspan x="555" dy="17.5">定义和举例等关系来猜测词义。</tspan></text></g>
<g id="watermarks">
<text class="wm" text-anchor="middle" transform="translate(640 510) rotate(-31)" y="40">树图 shutu.cn</text>
<text class="wm" text-anchor="middle" transform="translate(1930 510) rotate(-31)" y="40">树图 shutu.cn</text>
<text class="wm" text-anchor="middle" transform="translate(640 1515) rotate(-31)" y="40">树图 shutu.cn</text>
<text class="wm" text-anchor="middle" transform="translate(1930 1520) rotate(-31)" y="40">树图 shutu.cn</text>
<text class="wm" text-anchor="middle" transform="translate(640 2520) rotate(-31)" y="40">树图 shutu.cn</text>
<text class="wm" text-anchor="middle" transform="translate(1930 2520) rotate(-31)" y="40">树图 shutu.cn</text>
<text class="wm" text-anchor="middle" transform="translate(640 3525) rotate(-31)" y="40">树图 shutu.cn</text>
<text class="wm" text-anchor="middle" transform="translate(1930 3525) rotate(-31)" y="40">树图 shutu.cn</text>
</g>
</svg>
